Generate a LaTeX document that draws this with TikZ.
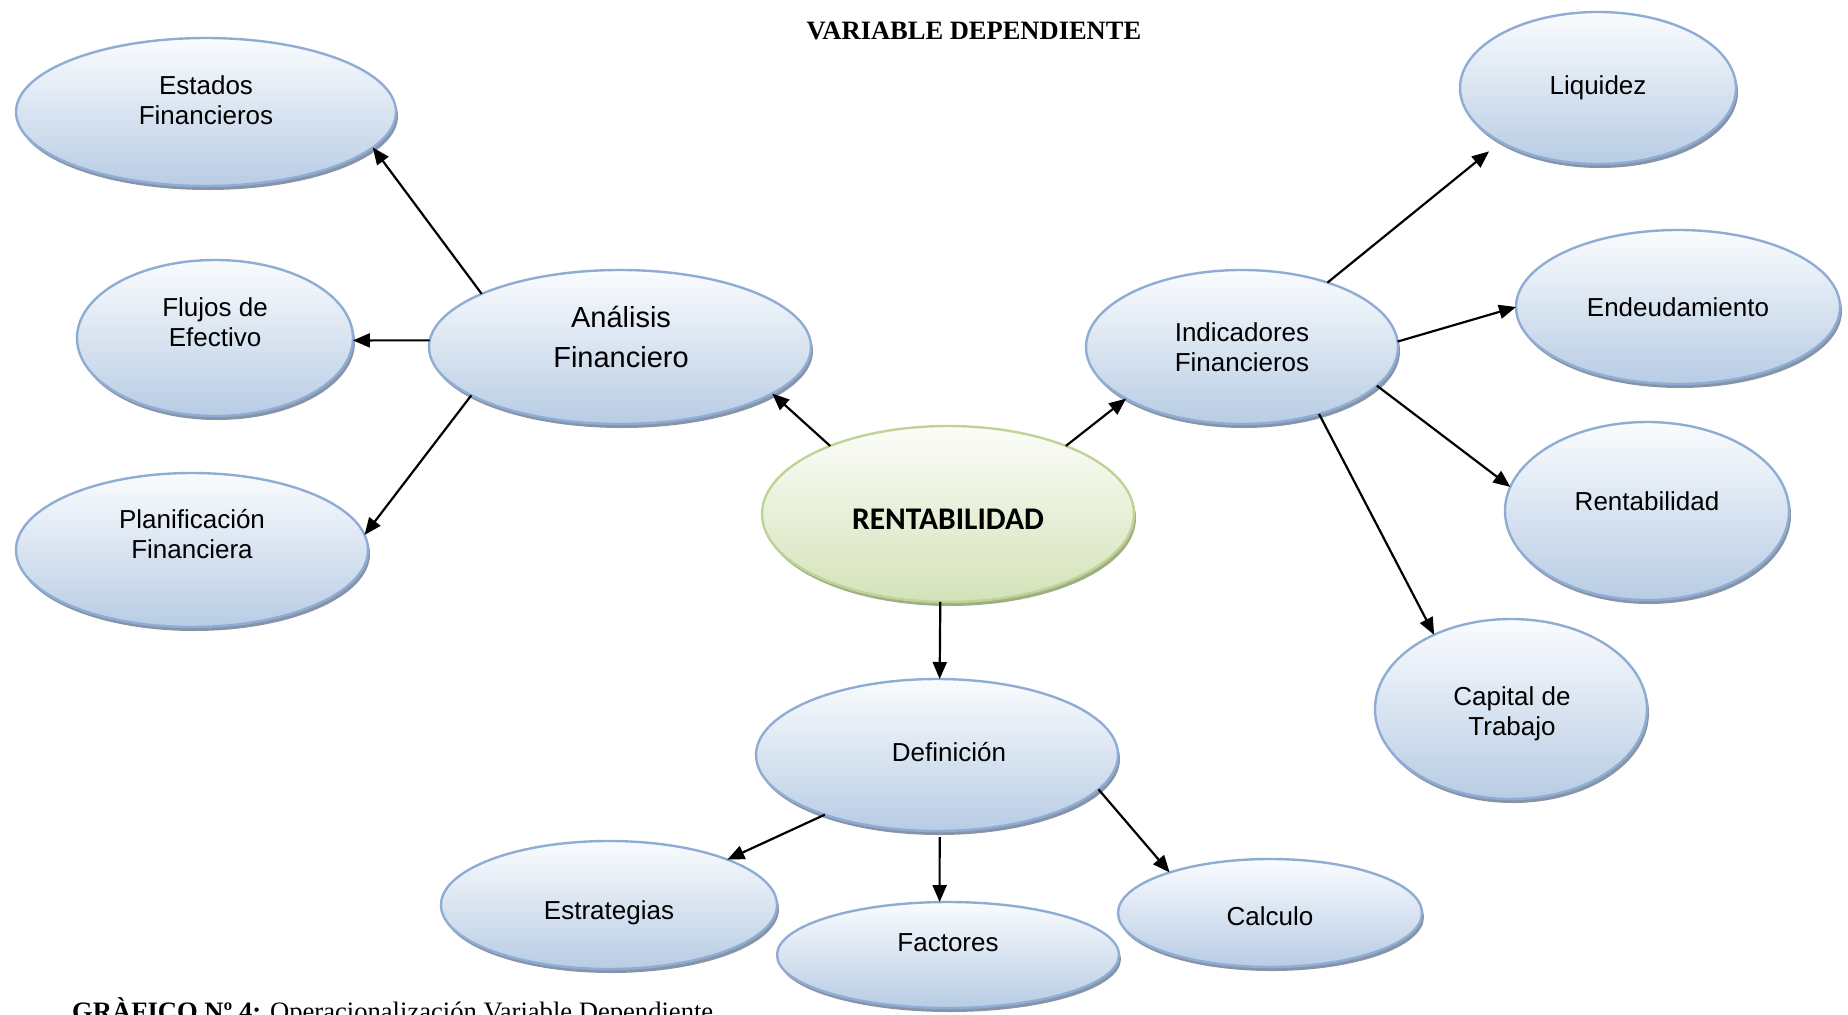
\documentclass[tikz,border=0pt]{standalone}
\usepackage{fontspec}
\setmainfont{Liberation Serif}
\newfontfamily\arialf{Liberation Sans}
\newfontfamily\calibf{Carlito}
\usetikzlibrary{shapes.geometric,arrows.meta,shadows}

\definecolor{bluetop}{RGB}{250,252,254}
\definecolor{bluebot}{RGB}{184,204,228}
\definecolor{blueline}{RGB}{143,173,212}
\definecolor{blueshade}{RGB}{135,148,168}
\definecolor{greentop}{RGB}{252,253,249}
\definecolor{greenbot}{RGB}{212,226,184}
\definecolor{greenline}{RGB}{190,211,150}
\definecolor{greenshade}{RGB}{160,174,134}

\begin{document}
\begin{tikzpicture}[x=1pt,y=-1pt,
  ellbase/.style={ellipse, line width=2.4pt, inner sep=0pt, outer sep=0pt},
  bubble/.style={ellbase, draw=blueline, top color=bluetop, bottom color=bluebot,
    drop shadow={shadow xshift=2pt, shadow yshift=-4pt, fill=blueshade, opacity=1}},
  core/.style={ellbase, draw=greenline, top color=greentop, bottom color=greenbot,
    drop shadow={shadow xshift=2pt, shadow yshift=-4pt, fill=greenshade, opacity=1}},
  sz/.style 2 args={minimum width=#1pt, minimum height=#2pt},
  txt/.style={align=center, inner sep=0pt, font=\arialf\fontsize{26}{30}\selectfont},
  bigtxt/.style={align=center, inner sep=0pt, font=\arialf\fontsize{29}{40}\selectfont},
  arr/.style={line width=2.2pt, -{Triangle[length=17pt,width=14pt]}}
]
\useasboundingbox (0,0) rectangle (1848,1015);

% heading
\node[font=\bfseries\fontsize{26.5}{30}\selectfont] (title) at (974,31) {VARIABLE DEPENDIENTE};

% ellipses
\node[bubble, sz={380}{148}] (est)  at (206,112)  {};
\node[bubble, sz={276}{156}] (flu)  at (215,338)  {};
\node[bubble, sz={352}{154}] (pla)  at (192,550)  {};
\node[bubble, sz={382}{154}] (ana)  at (620,347)  {};
\node[core,   sz={372}{176}] (ren)  at (948,514)  {};
\node[bubble, sz={312}{154}] (ind)  at (1242,347) {};
\node[bubble, sz={276}{152}] (liq)  at (1598,88)  {};
\node[bubble, sz={324}{154}] (end)  at (1678,307) {};
\node[bubble, sz={284}{178}] (rnt)  at (1647,511) {};
\node[bubble, sz={272}{180}] (cap)  at (1511,709) {};
\node[bubble, sz={362}{152}] (def)  at (937,755)  {};
\node[bubble, sz={336}{128}] (estr) at (609,905)  {};
\node[bubble, sz={342}{106}] (fac)  at (948,955)  {};
\node[bubble, sz={304}{108}] (cal)  at (1270,913) {};

% labels
\node[txt] (est-t)  at (206,100)  {Estados\\Financieros};
\node[txt] (flu-t)  at (215,322)  {Flujos de\\Efectivo};
\node[txt] (pla-t)  at (192,534)  {Planificación\\Financiera};
\node[bigtxt] (ana-t) at (621,337) {Análisis\\Financiero};
\node[font=\calibf\bfseries\fontsize{31.5}{36}\selectfont, inner sep=0pt] (ren-t) at (948,519) {RENTABILIDAD};
\node[txt] (ind-t)  at (1242,347) {Indicadores\\Financieros};
\node[txt] (liq-t)  at (1598,88)  {Liquidez};
\node[txt] (end-t)  at (1678,307) {Endeudamiento};
\node[txt] (rnt-t)  at (1647,501) {Rentabilidad};
\node[txt] (cap-t)  at (1512,714) {Capital de\\Trabajo};
\node[txt] (def-t)  at (949,752)  {Definición};
\node[txt] (estr-t) at (609,913)  {Estrategias};
\node[txt] (fac-t)  at (948,943)  {Factores};
\node[txt] (cal-t)  at (1270,916) {Calculo};

% connectors
\draw[arr] (ana.159)   -- (est.-12.5);
\draw[arr] (ana.178.5) -- (flu.-1.5);
\draw[arr] (ana.198)   -- (pla.5.5);
\draw[arr] (ren.150.7) -- (ana.-17.5);
\draw[arr] (ren.30.2)  -- (ind.204.3);
\draw[arr, shorten >=15pt] (ind.37.2) -- (liq.209.6);
\draw[arr] (ind.2.2)   -- (end.180.7);
\draw[arr] (ind.-16.7) -- (rnt.170.1);
\draw[arr] (ind.-41.3) -- (cap.136.6);
\draw[arr] (ren.-95.8) -- (def.88.5);
\draw[arr] (def.208.8) -- (estr.21.1);
\draw[arr, shorten <=6pt] (def.-88.5) -- (fac.99.6);
\draw[arr] (def.-12)   -- (cal.158.9);

% caption
\node[anchor=base west, inner sep=0pt, font=\fontsize{26.6}{30}\selectfont] (cap-line) at (72,1020)
  {\textbf{GRÀFICO Nº 4:} Operacionalización Variable Dependiente};
\end{tikzpicture}
\end{document}
